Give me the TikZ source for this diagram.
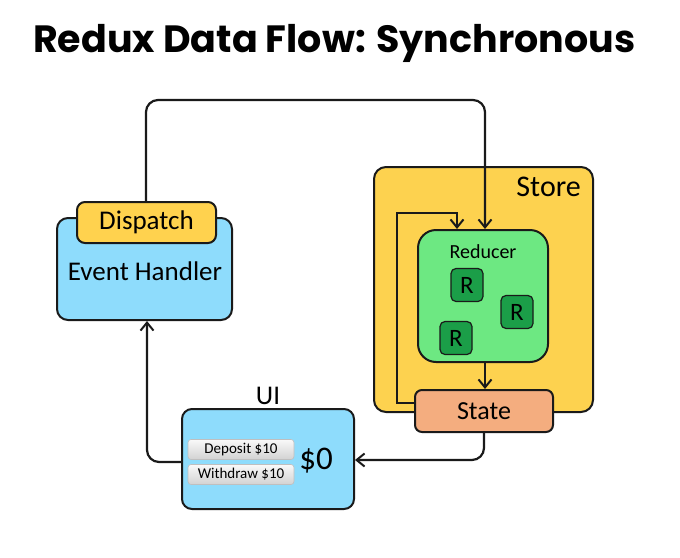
\documentclass[tikz,border=0pt]{standalone}
\usepackage{fontspec}
\setmainfont{Carlito}
\newfontfamily\titlefont{Poppins}[UprightFont=* Bold]
\usetikzlibrary{arrows.meta}
\definecolor{ehblue}{HTML}{8EDCFC}
\definecolor{dispyel}{HTML}{FFD24E}
\definecolor{storeyel}{HTML}{FDD24F}
\definecolor{redgreen}{HTML}{6DE882}
\definecolor{rgreen}{HTML}{1B9E48}
\definecolor{statesal}{HTML}{F4AD7F}
\definecolor{edgec}{HTML}{1A1A1A}
\tikzset{
  box/.style={draw=edgec, line width=2pt, rounded corners=9pt, inner sep=0pt},
  rbox/.style={box, fill=rgreen, line width=1.2pt, rounded corners=5pt, minimum width=32pt, minimum height=33pt, font=\fontsize{25}{25}\selectfont},
  btn/.style={draw=gray!50, line width=0.6pt, rounded corners=3pt, top color=gray!5, bottom color=gray!35, minimum width=106pt, minimum height=20pt, inner sep=0pt, font=\fontsize{15}{15}\selectfont},
  flow/.style={draw=edgec, line width=2.2pt, rounded corners=12pt, -{Straight Barb[length=8pt,width=13pt,line width=2pt]}},
}
\begin{document}
\begin{tikzpicture}[x=1pt,y=-1pt]
\useasboundingbox (0,0) rectangle (680,557);
\node[anchor=base west, font=\titlefont\fontsize{38}{38}\selectfont, inner sep=0pt] (title) at (33,52) {Redux Data Flow: Synchronous};

% Store
\node[box, fill=storeyel, rounded corners=12pt, minimum width=219pt, minimum height=245pt] (store) at (483.5,289.5) {};
\node[font=\fontsize{30}{30}\selectfont, anchor=east, inner sep=0pt] (storelbl) at (581,187) {Store};

% Reducer
\node[box, fill=redgreen, rounded corners=18pt, minimum width=130pt, minimum height=132pt] (reducer) at (483,296) {};
\node[font=\fontsize{20}{20}\selectfont, inner sep=0pt] (redlbl) at (483,252) {Reducer};
\node[rbox] (r1) at (467,285) {R};
\node[rbox] (r2) at (517,312) {R};
\node[rbox] (r3) at (456,338) {R};

% State
\node[box, fill=statesal, rounded corners=7pt, minimum width=138pt, minimum height=42pt, font=\fontsize{26}{26}\selectfont] (state) at (484,411) {State};

% Event handler
\node[box, fill=ehblue, rounded corners=11pt, minimum width=175pt, minimum height=102pt] (eh) at (144.5,269) {};
\node[font=\fontsize{27}{27}\selectfont, inner sep=0pt] (ehlbl) at (145,271) {Event Handler};
\node[box, fill=dispyel, rounded corners=8pt, minimum width=139pt, minimum height=41pt, font=\fontsize{27}{27}\selectfont] (disp) at (146.5,222.5) {Dispatch};

% UI
\node[box, fill=ehblue, rounded corners=10pt, minimum width=172pt, minimum height=100pt] (ui) at (268,459) {};
\node[font=\fontsize{27}{27}\selectfont, inner sep=0pt] (uilbl) at (268,396) {UI};
\node[btn] (dep) at (241,449.5) {Deposit \$10};
\node[btn] (wd) at (241,474.5) {Withdraw \$10};
\node[font=\fontsize{33}{33}\selectfont, inner sep=0pt] (zero) at (316,461) {\$0};

% Connectors
\coordinate (topl) at (146,100);
\coordinate (topr) at (485,100);
\draw[flow] (disp.north -| topl) -- (topl) -- (topr) -- (reducer.north -| topr);
\draw[flow, rounded corners=0pt] (reducer.south -| topr) -- (state.north -| topr);
\coordinate (loopb) at (397,403);
\coordinate (loopt) at (397,213);
\coordinate (loopr) at (457,213);
\draw[flow, rounded corners=0pt] (state.west |- loopb) -- (loopb) -- (loopt) -- (loopr) -- (reducer.north -| loopr);
\coordinate (sr) at (484,460);
\draw[flow] (state.south) -- (sr) -- (ui.east |- sr);
\coordinate (ul) at (147,462);
\draw[flow] (ui.west |- ul) -- (ul) -- (eh.south -| ul);
\end{tikzpicture}
\end{document}
